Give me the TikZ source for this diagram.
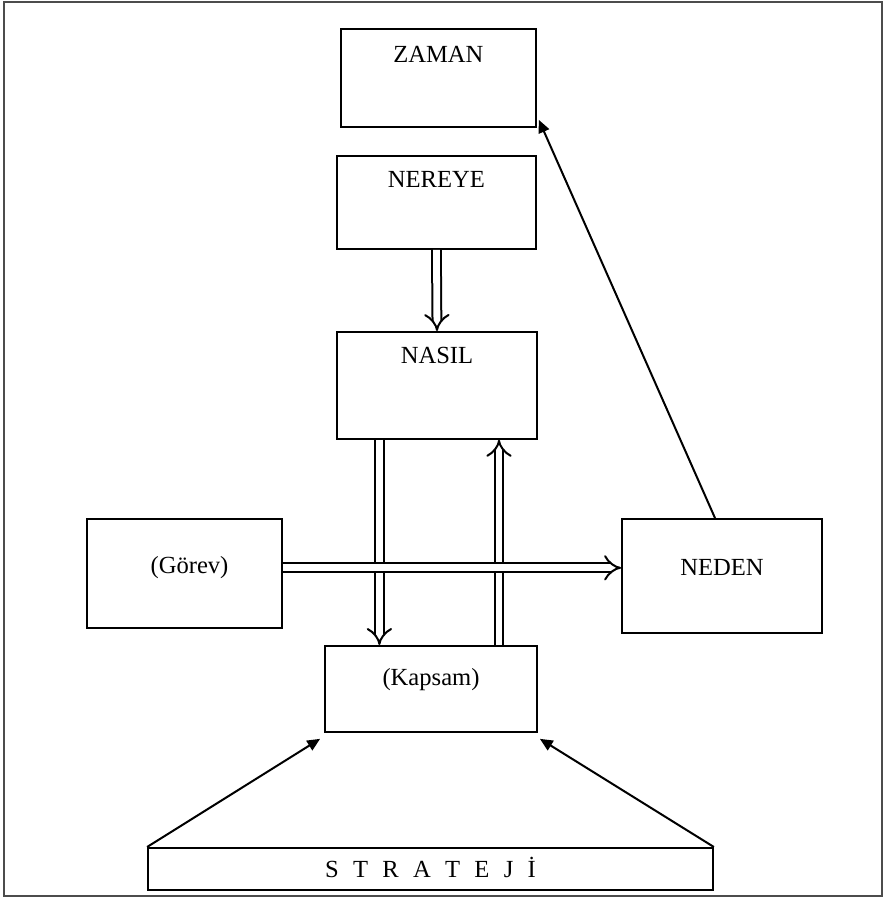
\documentclass[tikz,border=0pt]{standalone}
\usepackage{fontspec}
\setmainfont{Liberation Serif}
\usepackage{tikz}
\usetikzlibrary{arrows.meta, calc}

\tikzset{
  kutu/.style={draw, line width=1.3pt, anchor=north, inner xsep=0pt, inner ysep=0pt, font=\fontsize{17.5}{20}\selectfont},
  cift/.style={double, double distance=0.17cm, line width=0.05cm, -{Implies}},
  ince/.style={line width=0.05cm, -{Triangle[length=0.32cm, width=0.28cm]}},
  cerceve/.style={draw=black!70, line width=0.05cm}
}

\begin{document}
\begin{tikzpicture}
  \useasboundingbox (0,0) rectangle (22.125,-22.475);
  % Outer frame
  \draw[cerceve] (0.1,-0.05) rectangle (22.05,-22.4);

  % Boxes (text sits near the top of most boxes)
  \node[kutu, minimum width=4.875cm, text height=0.85cm, text depth=1.6cm] (zaman) at (10.96,-0.7) {ZAMAN};
  \node[kutu, minimum width=4.975cm, text height=0.8cm, text depth=1.525cm] (nereye) at (10.91,-3.875) {NEREYE};
  \node[kutu, minimum width=5cm, text height=0.8cm, text depth=1.875cm] (nasil) at (10.925,-8.275) {NASIL};
  \node[kutu, minimum width=4.875cm, text height=1.375cm, text depth=1.35cm] (gorev) at (4.6125,-12.95) {\hspace{0.25cm}(Görev)};
  \node[kutu, minimum width=5cm, text height=1.425cm, text depth=1.425cm] (neden) at (18.05,-12.95) {NEDEN};
  \node[kutu, minimum width=5.3cm, text height=1cm, text depth=1.15cm] (kapsam) at (10.775,-16.125) {(Kapsam)};
  \node[kutu, minimum width=14.125cm, text height=0.75cm, text depth=0.3cm] (strateji) at (10.7625,-21.175) {\spaceskip=0.58em S T R A T E J İ};

  % Double arrows
  \draw[cift] (nereye.south) -- (nasil.north);
  \draw[cift] ([xshift=-1.44cm]nasil.south) -- ([xshift=-1.44cm]nasil.south |- kapsam.north);
  \draw[cift] ([xshift=1.55cm]nasil.south |- kapsam.north) -- ([xshift=1.55cm]nasil.south);
  \draw[cift] ([yshift=0.14cm]gorev.east) -- ([yshift=0.14cm]gorev.east -| neden.west);

  % Thin arrows
  \draw[ince] ([xshift=-0.175cm]neden.north) -- ([shift={(0.05,0.2)}]zaman.south east);
  \draw[ince] (strateji.north west) -- ([shift={(-0.1,-0.15)}]kapsam.south west);
  \draw[ince] (strateji.north east) -- ([shift={(0.05,-0.15)}]kapsam.south east);
\end{tikzpicture}
\end{document}
